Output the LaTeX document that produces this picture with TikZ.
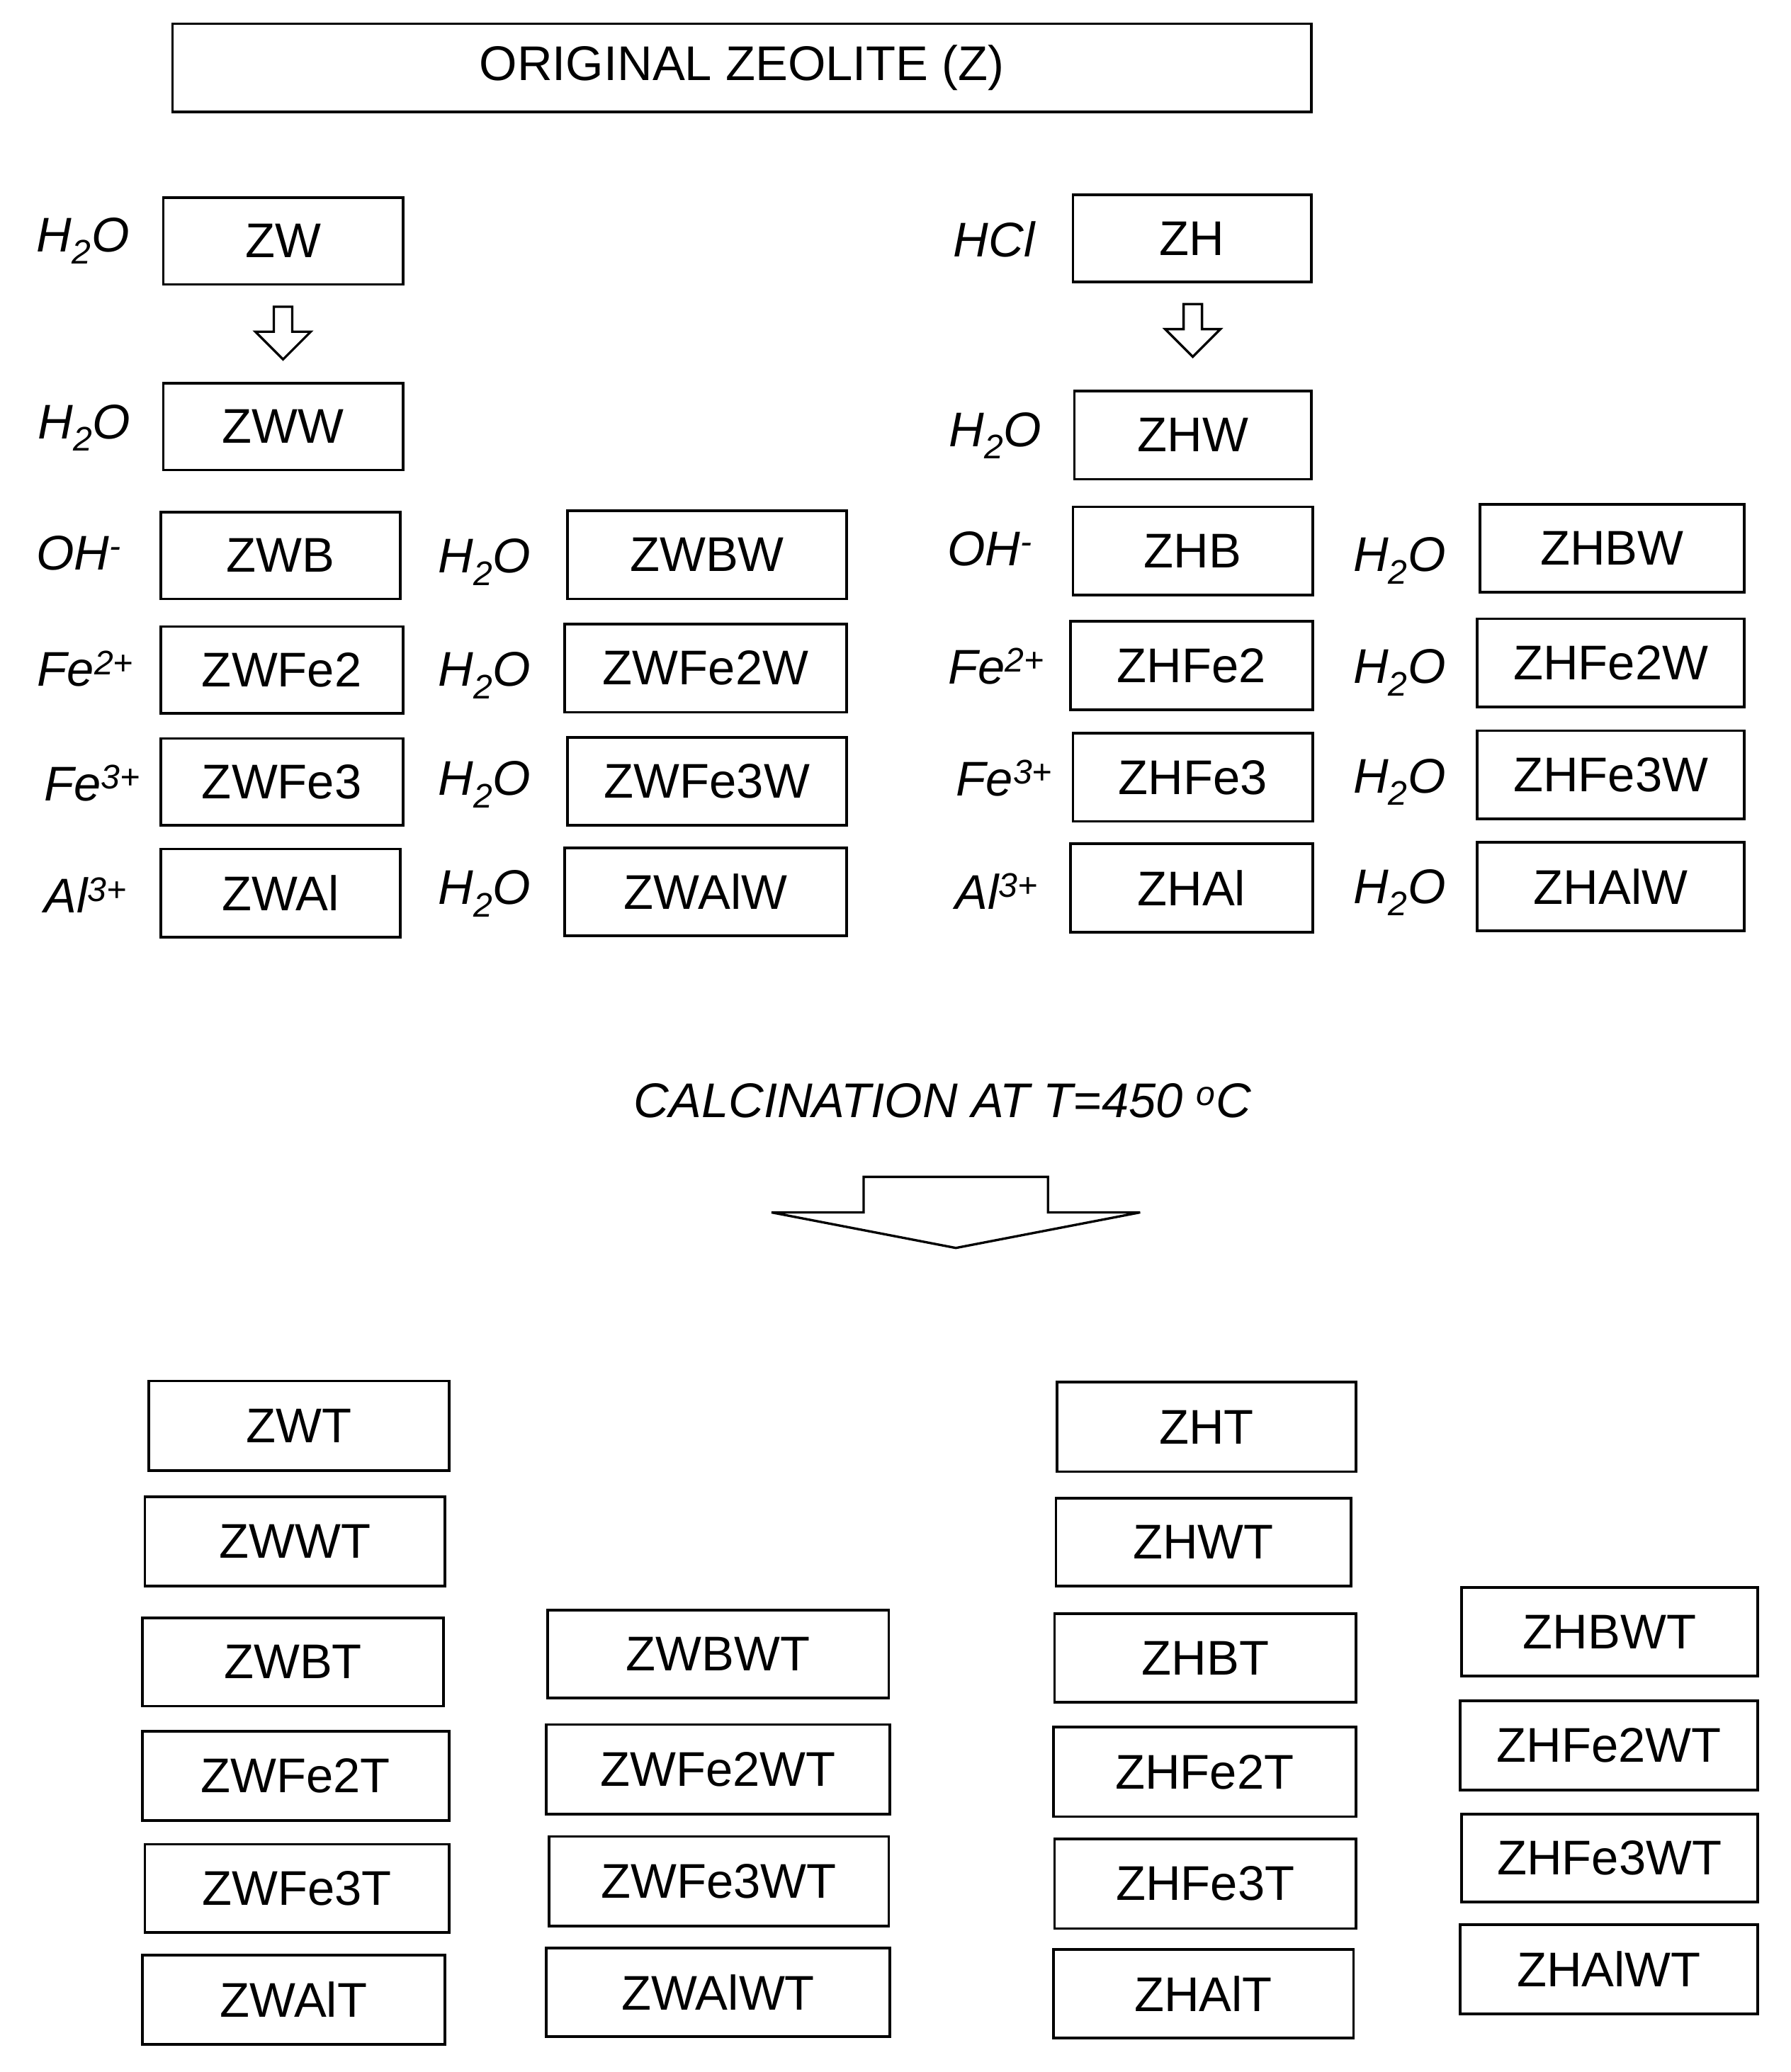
\documentclass[tikz,border=0pt]{standalone}
\usepackage{fontspec}
\setmainfont{Liberation Sans}
\begin{document}
\begin{tikzpicture}[x=1pt,y=-1pt,
  bx/.style={draw,line width=2pt,inner sep=0pt,font=\fontsize{37}{40}\selectfont},
  lb/.style={inner sep=0pt,font=\fontsize{37}{40}\selectfont\itshape},
  arr/.style={draw,line width=1.8pt,fill=white}]
\useasboundingbox (0,0) rectangle (1360,1574);
\newcommand\bx[6]{\node[bx,minimum width={#4-#2},minimum height={#5-#3}] (#1) at ({(#2+#4)/2},{(#3+#5)/2}) {#6};}
\newcommand\lbl[4]{\node[lb] (#1) at (#2,#3) {#4};}
\bx{Z}{131}{18}{996}{85}{ORIGINAL ZEOLITE (Z)}
\bx{ZW}{124}{150}{306}{216}{ZW}
\bx{ZH}{815}{148}{996}{214}{ZH}
\bx{ZWW}{124}{291}{306}{357}{ZWW}
\bx{ZHW}{816}{297}{996}{364}{ZHW}
\bx{ZWB}{122}{389}{304}{455}{ZWB}
\bx{ZWBW}{431}{388}{643}{455}{ZWBW}
\bx{ZHB}{815}{385}{997}{452}{ZHB}
\bx{ZHBW}{1124}{383}{1325}{450}{ZHBW}
\bx{ZWFe2}{122}{476}{306}{542}{ZWFe2}
\bx{ZWFe2W}{429}{474}{643}{541}{ZWFe2W}
\bx{ZHFe2}{813}{472}{997}{539}{ZHFe2}
\bx{ZHFe2W}{1122}{470}{1325}{537}{ZHFe2W}
\bx{ZWFe3}{122}{561}{306}{627}{ZWFe3}
\bx{ZWFe3W}{431}{560}{643}{627}{ZWFe3W}
\bx{ZHFe3}{815}{557}{997}{624}{ZHFe3}
\bx{ZHFe3W}{1122}{555}{1325}{622}{ZHFe3W}
\bx{ZWAl}{122}{645}{304}{712}{ZWAl}
\bx{ZWAlW}{429}{644}{643}{711}{ZWAlW}
\bx{ZHAl}{813}{641}{997}{708}{ZHAl}
\bx{ZHAlW}{1122}{640}{1325}{707}{ZHAlW}
% labels
\lbl{l1}{63}{183}{H\textsubscript{\normalfont\itshape 2}O}
\lbl{l2}{64}{325}{H\textsubscript{2}O}
\lbl{l3}{60}{420}{OH\textsuperscript{-}}
\lbl{l4}{65}{508}{Fe\textsuperscript{2+}}
\lbl{l5}{70}{595}{Fe\textsuperscript{3+}}
\lbl{l6}{65}{680}{Al\textsuperscript{3+}}
\lbl{m1}{368}{427}{H\textsubscript{2}O}
\lbl{m2}{368}{513}{H\textsubscript{2}O}
\lbl{m3}{368}{596}{H\textsubscript{2}O}
\lbl{m4}{368}{679}{H\textsubscript{2}O}
\lbl{r1}{755}{182}{HCl}
\lbl{r2}{756}{331}{H\textsubscript{2}O}
\lbl{r3}{752}{417}{OH\textsuperscript{-}}
\lbl{r4}{757}{506}{Fe\textsuperscript{2+}}
\lbl{r5}{763}{591}{Fe\textsuperscript{3+}}
\lbl{r6}{757}{677}{Al\textsuperscript{3+}}
\lbl{s1}{1063}{426}{H\textsubscript{2}O}
\lbl{s2}{1063}{511}{H\textsubscript{2}O}
\lbl{s3}{1063}{594}{H\textsubscript{2}O}
\lbl{s4}{1063}{678}{H\textsubscript{2}O}
\lbl{cal}{716}{836}{CALCINATION AT T=450 \textsuperscript{o}C}
% small arrows
\draw[arr] (208,233)--(222,233)--(222,252)--(236,252)--(215,273)--(194,252)--(208,252)--cycle;
\draw[arr] (899,231)--(913,231)--(913,250)--(927,250)--(906,271)--(885,250)--(899,250)--cycle;
% big arrow
\draw[arr] (586,921)--(656,921)--(656,894)--(796,894)--(796,921)--(866,921)--(726,948)--cycle;
% bottom
\bx{ZWT}{113}{1049}{341}{1117}{ZWT}
\bx{ZWWT}{110}{1137}{338}{1205}{ZWWT}
\bx{ZWBT}{108}{1229}{337}{1296}{ZWBT}
\bx{ZWFe2T}{108}{1315}{341}{1383}{ZWFe2T}
\bx{ZWFe3T}{110}{1401}{341}{1468}{ZWFe3T}
\bx{ZWAlT}{108}{1485}{338}{1553}{ZWAlT}
\bx{ZWBWT}{416}{1223}{675}{1290}{ZWBWT}
\bx{ZWFe2WT}{415}{1310}{676}{1378}{ZWFe2WT}
\bx{ZWFe3WT}{417}{1395}{675}{1463}{ZWFe3WT}
\bx{ZWAlWT}{415}{1480}{676}{1547}{ZWAlWT}
\bx{ZHT}{803}{1050}{1030}{1118}{ZHT}
\bx{ZHWT}{802}{1138}{1026}{1205}{ZHWT}
\bx{ZHBT}{801}{1226}{1030}{1293}{ZHBT}
\bx{ZHFe2T}{800}{1312}{1030}{1380}{ZHFe2T}
\bx{ZHFe3T}{801}{1397}{1030}{1465}{ZHFe3T}
\bx{ZHAlT}{800}{1481}{1028}{1548}{ZHAlT}
\bx{ZHBWT}{1110}{1206}{1335}{1273}{ZHBWT}
\bx{ZHFe2WT}{1109}{1292}{1335}{1360}{ZHFe2WT}
\bx{ZHFe3WT}{1110}{1378}{1335}{1445}{ZHFe3WT}
\bx{ZHAlWT}{1109}{1462}{1335}{1530}{ZHAlWT}
\end{tikzpicture}
\end{document}
